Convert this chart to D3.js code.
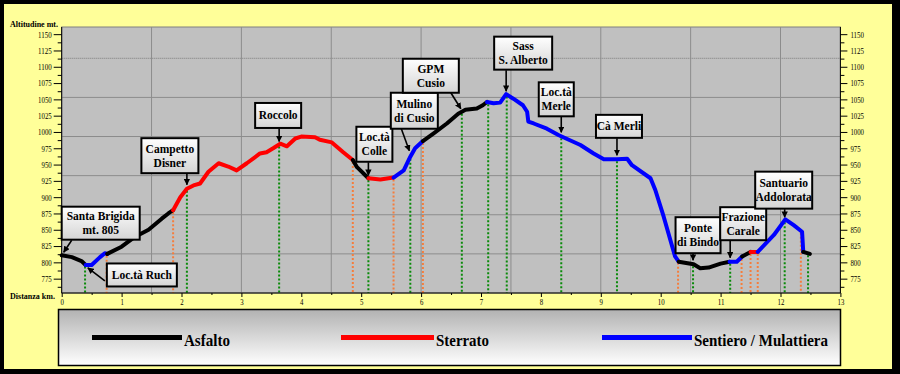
<!DOCTYPE html>
<html>
<head>
<meta charset="utf-8">
<script src="https://cdn.jsdelivr.net/npm/d3@7"></script>
<style>
  body { margin: 0; background: #fff; }
</style>
</head>
<body>
<div id="chart"></div>
<script>
// profile of the route: distance (km), altitude (m) and surface of the leg that starts at each point
const distanceKm = [0.00, 0.17, 0.33, 0.40, 0.50, 0.64, 0.72, 0.76, 1.00, 1.22, 1.45, 1.67, 1.78, 1.86,
    1.98, 2.09, 2.20, 2.31, 2.45, 2.62, 2.78, 2.92, 3.09, 3.31, 3.42, 3.53, 3.65, 3.76, 3.90, 4.00,
    4.23, 4.31, 4.51, 4.70, 4.86, 4.93, 5.12, 5.32, 5.54, 5.71, 5.82, 5.90, 6.03, 6.21, 6.43, 6.62,
    6.74, 6.93, 7.03, 7.10, 7.21, 7.32, 7.42, 7.54, 7.70, 7.77, 7.79, 7.88, 8.10, 8.30, 8.66, 8.88,
    9.05, 9.27, 9.44, 9.52, 9.83, 9.91, 10.05, 10.24, 10.30, 10.55, 10.66, 10.80, 11.00, 11.15,
    11.27, 11.36, 11.50, 11.62, 11.89, 12.08, 12.22, 12.36, 12.38, 12.49];
const altitude = [811, 808, 802, 796, 796, 808, 814, 813, 824, 839, 850, 867, 875, 880,
    900, 913, 918, 921, 939, 952, 947, 941, 952, 967, 969, 975, 982, 978, 990, 993,
    992, 988, 984, 969, 957, 946, 929, 927, 930, 941, 962, 975, 986, 998, 1013, 1028,
    1034, 1036, 1041, 1046, 1044, 1045, 1058, 1051, 1041, 1031, 1016, 1013, 1005, 995, 980, 967,
    958, 958, 959, 949, 929, 911, 870, 809, 801, 797, 791, 792, 798, 801,
    801, 809, 816, 816, 842, 866, 857, 847, 816, 813];
const surface = ["A", "A", "A", "S", "S", "S", "S", "A", "A", "A", "A", "A", "A", "R",
    "R", "R", "R", "R", "R", "R", "R", "R", "R", "R", "R", "R", "R", "R", "R", "R",
    "R", "R", "R", "R", "A", "A", "R", "R", "S", "S", "S", "S", "A", "A", "A", "A",
    "A", "A", "A", "S", "S", "S", "S", "S", "S", "S", "S", "S", "S", "S", "S", "S",
    "S", "S", "S", "S", "S", "S", "S", "S", "A", "A", "A", "A", "A", "S",
    "S", "A", "R", "S", "S", "S", "S", "S", "A", "A"];

const surfaceKeys = ["A", "R", "S"];
const surfaceNames = ["Asfalto", "Sterrato", "Sentiero / Mulattiera"];
const surfaceColors = ["#000000", "#ff0000", "#0000ff"];

// dotted drop lines: green = places, orange = change of surface
const placeKm = [0.39, 2.09, 3.63, 5.12, 5.82, 6.68, 7.12, 7.43, 8.34, 9.27, 10.54, 11.16, 12.07, 12.46];
const changeKm = [0.75, 1.86, 4.86, 5.54, 6.03, 10.29, 11.35, 11.50, 11.62, 12.34];

// named places
const labelNames = [["Santa Brigida", "mt. 805"], ["Loc.tà Ruch"], ["Campetto", "Disner"], ["Roccolo"],
    ["Loc.tà", "Colle"], ["Mulino", "di Cusio"], ["GPM", "Cusio"], ["Sass", "S. Alberto"],
    ["Loc.tà", "Merle"], ["Cà Merli"], ["Ponte", "di Bindo"], ["Frazione", "Carale"], ["Santuario", "Addolorata"]];
const labelKm = [0, 0.42, 2.09, 3.63, 5.12, 5.82, 6.68, 7.42, 8.34, 9.27, 10.54, 11.16, 12.07];

// axis values
const altTicks = [775, 800, 825, 850, 875, 900, 925, 950, 975, 1000, 1025, 1050, 1075, 1100, 1125, 1150];
const altGrid = [813, 873, 933, 993, 1053, 1113];
const kmTicks = [0, 1, 2, 3, 4, 5, 6, 7, 8, 9, 10, 11, 12, 13];
const kmGrid = [1.5, 3, 4.5, 6, 7.5, 9, 10.5, 12];

// callout layout (px, relative to the labelled point): box centre, box size, arrow start, arrow tip
const callouts = [
    { bx: 39, by: -32, w: 78, h: 33, sx: 10, sy: -15, tx: 2, ty: -3 },
    { bx: 55, by: 10, w: 70, h: 23, sx: 18, sy: 16, tx: 1, ty: 3 },
    { bx: -17, by: -33, w: 57, h: 35, sx: 0, sy: -15, tx: 0, ty: -4 },
    { bx: -1, by: -29, w: 46, h: 25, sx: 0, sy: -16, tx: 0, ty: -3 },
    { bx: 6, by: -34, w: 36, h: 35, sx: 0, sy: -16, tx: 0, ty: -3 },
    { bx: 4, by: -46, w: 47, h: 36, sx: -9, sy: -28, tx: -1, ty: -6 },
    { bx: -31, by: -36, w: 56, h: 34, sx: -11, sy: -19, tx: -1, ty: -3 },
    { bx: 17, by: -41, w: 58, h: 33, sx: 0, sy: -24, tx: 0, ty: -3 },
    { bx: -5, by: -37, w: 35, h: 34, sx: 0, sy: -20, tx: 0, ty: -4 },
    { bx: 2, by: -33, w: 46, h: 23, sx: 0, sy: -21, tx: 0, ty: -4 },
    { bx: 5, by: -29, w: 45, h: 36, sx: 0, sy: -11, tx: 0, ty: -4 },
    { bx: 13, by: -38, w: 46, h: 33, sx: 0, sy: -22, tx: 0, ty: -4 },
    { bx: -1, by: -30, w: 57, h: 37, sx: 0, sy: -11, tx: 0, ty: -3 }
];

const width = 900, height = 374;
const plot = { left: 61.7, right: 840.4, top: 27, bottom: 293 };
const serif = "'Liberation Serif', 'Times New Roman', serif";

const x = d3.scaleLinear().domain([0, 13]).range([plot.left, plot.right]);
const y = d3.scaleLinear().domain([753, 1161]).range([plot.bottom, plot.top]);

const altAt = km => {
    const i = Math.max(1, Math.min(distanceKm.length - 1, d3.bisectLeft(distanceKm, km)));
    const t = (km - distanceKm[i - 1]) / (distanceKm[i] - distanceKm[i - 1]);
    return altitude[i - 1] + t * (altitude[i] - altitude[i - 1]);
};

const svg = d3.select("#chart").append("svg")
    .attr("width", width)
    .attr("height", height)
    .attr("viewBox", [0, 0, width, height]);

const defs = svg.append("defs");
const boxGrad = defs.append("linearGradient").attr("id", "boxGrad")
    .attr("x1", 0).attr("y1", 0).attr("x2", 0).attr("y2", 1);
boxGrad.append("stop").attr("offset", "0%").attr("stop-color", "#ffffff");
boxGrad.append("stop").attr("offset", "100%").attr("stop-color", "#d4d4d4");
const legGrad = defs.append("linearGradient").attr("id", "legGrad")
    .attr("x1", 0).attr("y1", 0).attr("x2", 0).attr("y2", 1);
legGrad.append("stop").attr("offset", "0%").attr("stop-color", "#b2b2b2");
legGrad.append("stop").attr("offset", "100%").attr("stop-color", "#ffffff");
defs.append("marker").attr("id", "arrow")
    .attr("viewBox", "0 0 10 10").attr("refX", 9).attr("refY", 5)
    .attr("markerWidth", 4).attr("markerHeight", 4).attr("orient", "auto")
    .append("path").attr("d", "M0,0L10,5L0,10Z").attr("fill", "#000");

// frame
svg.append("rect").attr("width", width).attr("height", height).attr("fill", "#000");
svg.append("rect").attr("x", 4).attr("y", 4).attr("width", 888).attr("height", 365).attr("fill", "#ffff99");

// plot area
svg.append("rect")
    .attr("x", plot.left).attr("y", plot.top)
    .attr("width", plot.right - plot.left).attr("height", plot.bottom - plot.top)
    .attr("fill", "#c0c0c0").attr("stroke", "#808080");

svg.append("g").selectAll("line").data(altGrid).join("line")
    .attr("x1", plot.left).attr("x2", plot.right)
    .attr("y1", d => y(d)).attr("y2", d => y(d))
    .attr("stroke", (d, i) => i === altGrid.length - 1 ? "#7a7a7a" : "#8c8c8c")
    .attr("stroke-dasharray", (d, i) => i === altGrid.length - 1 ? "1,1" : null);

svg.append("g").selectAll("line").data(kmGrid).join("line")
    .attr("x1", d => x(d)).attr("x2", d => x(d))
    .attr("y1", plot.top).attr("y2", plot.bottom)
    .attr("stroke", "#8c8c8c");

// drop lines
const drops = [
    ...changeKm.map(k => ({ km: k, color: "#f57d3c" })),
    ...placeKm.map(k => ({ km: k, color: "#0a8a0a" }))
];
svg.append("g").selectAll("line").data(drops).join("line")
    .attr("x1", d => x(d.km)).attr("x2", d => x(d.km))
    .attr("y1", d => y(altAt(d.km)) + 2).attr("y2", plot.bottom)
    .attr("stroke", d => d.color)
    .attr("stroke-width", 2)
    .attr("stroke-dasharray", "2,2");

// profile, split into runs of equal surface
const runs = [];
let start = 0;
for (let i = 1; i < distanceKm.length; i++) {
    if (i === distanceKm.length - 1 || surface[i] !== surface[start]) {
        runs.push({ key: surface[start], idx: d3.range(start, i + 1) });
        start = i;
    }
}
const line = d3.line().x(i => x(distanceKm[i])).y(i => y(altitude[i]));
svg.append("g").selectAll("path").data(runs).join("path")
    .attr("d", d => line(d.idx))
    .attr("fill", "none")
    .attr("stroke", d => surfaceColors[surfaceKeys.indexOf(d.key)])
    .attr("stroke-width", 4)
    .attr("stroke-linejoin", "round")
    .attr("stroke-linecap", "round");

// axes
const tickText = sel => sel.selectAll("text")
    .attr("font-family", serif)
    .attr("font-size", 9)
    .attr("fill", "#000")
    .attr("textLength", function () { return this.textContent.length * 3.4; })
    .attr("lengthAdjust", "spacingAndGlyphs");
const minorAlt = altTicks.map(d => d - 12.5);
const fmt = d3.format("d");

svg.append("g").attr("transform", `translate(${plot.left},0)`)
    .call(d3.axisLeft(y).tickValues(minorAlt).tickSize(4).tickFormat(""))
    .call(g => g.select(".domain").remove());
svg.append("g").attr("transform", `translate(${plot.left},0)`)
    .call(d3.axisLeft(y).tickValues(altTicks).tickSize(8).tickPadding(2).tickFormat(fmt))
    .call(g => g.select(".domain").attr("d", `M0,${plot.top}V${plot.bottom}`))
    .call(tickText);

svg.append("g").attr("transform", `translate(${plot.right},0)`)
    .call(d3.axisRight(y).tickValues(minorAlt).tickSize(4).tickFormat(""))
    .call(g => g.select(".domain").remove());
svg.append("g").attr("transform", `translate(${plot.right},0)`)
    .call(d3.axisRight(y).tickValues(altTicks).tickSize(7).tickPadding(3).tickFormat(fmt))
    .call(g => g.select(".domain").attr("d", `M0,${plot.top}V${plot.bottom}`))
    .call(tickText);

svg.append("g").attr("transform", `translate(0,${plot.bottom})`)
    .call(d3.axisBottom(x).tickValues(kmTicks.slice(1).map(d => d - 0.5)).tickSize(2).tickFormat(""))
    .call(g => g.select(".domain").remove());
svg.append("g").attr("transform", `translate(0,${plot.bottom})`)
    .call(d3.axisBottom(x).tickValues(kmTicks).tickSize(4).tickPadding(2).tickFormat(fmt))
    .call(g => g.select(".domain").attr("d", `M${plot.left},0H${plot.right}`))
    .call(tickText);

svg.selectAll(".tick line, .domain").attr("stroke", "#000");

svg.append("text").attr("x", 10).attr("y", 27)
    .attr("font-family", serif).attr("font-size", 9).attr("font-weight", "bold")
    .attr("textLength", 48).attr("lengthAdjust", "spacingAndGlyphs")
    .text("Altitudine mt.");
svg.append("text").attr("x", 10).attr("y", 299)
    .attr("font-family", serif).attr("font-size", 9).attr("font-weight", "bold")
    .attr("textLength", 45).attr("lengthAdjust", "spacingAndGlyphs")
    .text("Distanza km.");

// callouts
const labels = labelKm.map((km, i) => ({
    px: x(km), py: y(altAt(km)), lines: labelNames[i], c: callouts[i]
}));
const cg = svg.append("g").selectAll("g").data(labels).join("g");
cg.append("line")
    .attr("x1", d => d.px + d.c.sx).attr("y1", d => d.py + d.c.sy)
    .attr("x2", d => d.px + d.c.tx).attr("y2", d => d.py + d.c.ty)
    .attr("stroke", "#000").attr("stroke-width", 1.6)
    .attr("marker-end", "url(#arrow)");
cg.append("rect")
    .attr("x", d => d.px + d.c.bx - d.c.w / 2).attr("y", d => d.py + d.c.by - d.c.h / 2)
    .attr("width", d => d.c.w).attr("height", d => d.c.h)
    .attr("fill", "url(#boxGrad)").attr("stroke", "#000").attr("stroke-width", 2);
cg.append("text")
    .attr("font-family", serif).attr("font-size", 11.5).attr("font-weight", "bold")
    .attr("text-anchor", "middle")
    .selectAll("tspan").data(d => d.lines.map((t, j) => ({ t, j, d }))).join("tspan")
    .attr("x", e => e.d.px + e.d.c.bx)
    .attr("y", e => e.d.py + e.d.c.by + 4 + (e.j - (e.d.lines.length - 1) / 2) * 14)
    .text(e => e.t);

// legend
svg.append("rect").attr("x", 58.5).attr("y", 309.5).attr("width", 782).attr("height", 56)
    .attr("fill", "url(#legGrad)").attr("stroke", "#000").attr("stroke-width", 1.5);
const legX = [92, 341, 602];
const legLen = [90, 93, 90];
const legTextLen = [46, 53, 134];
const lg = svg.append("g").selectAll("g").data(surfaceNames).join("g");
lg.append("line")
    .attr("x1", (d, i) => legX[i]).attr("x2", (d, i) => legX[i] + legLen[i])
    .attr("y1", 337.5).attr("y2", 337.5)
    .attr("stroke", (d, i) => surfaceColors[i]).attr("stroke-width", 5);
lg.append("text")
    .attr("x", (d, i) => legX[i] + legLen[i] + 2).attr("y", 345.5)
    .attr("font-family", serif).attr("font-size", 17).attr("font-weight", "bold")
    .attr("textLength", (d, i) => legTextLen[i]).attr("lengthAdjust", "spacingAndGlyphs")
    .text(d => d);
</script>
</body>
</html>
